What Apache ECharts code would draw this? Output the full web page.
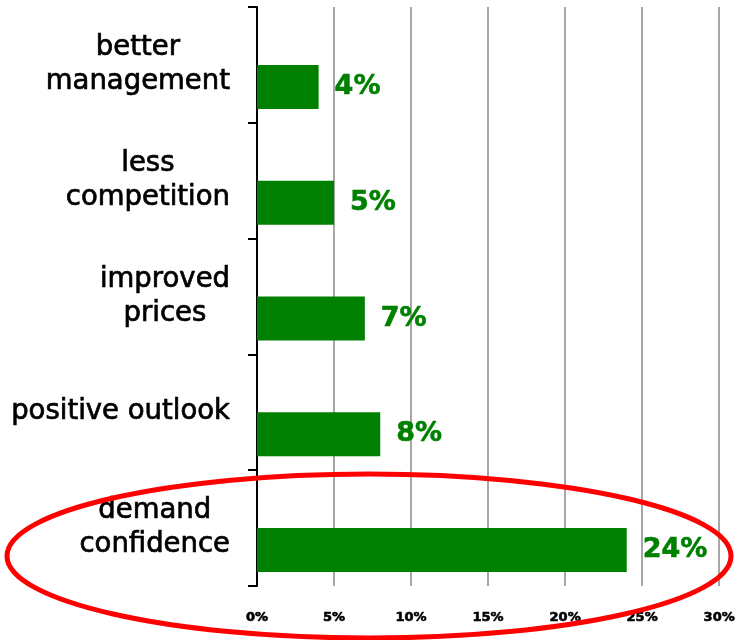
<!DOCTYPE html>
<html>
<head>
<meta charset="utf-8">
<script src="https://cdn.jsdelivr.net/npm/echarts@6/dist/echarts.min.js"></script>
<style>html,body{margin:0;padding:0;background:#fff}#c{width:738px;height:640px}</style>
</head>
<body>
<div id="c"></div>
<script>
const categories = ['demand confidence', 'positive outlook', 'improved prices', 'less competition', 'better management'];
const categoryLines = [['demand', 'confidence'], ['positive outlook'], ['improved', 'prices'], ['less', 'competition'], ['better', 'management']];
const values = [24, 8, 7, 5, 4];
const xTicks = [0, 5, 10, 15, 20, 25, 30];

const chart = echarts.init(document.getElementById('c'), null, {renderer: 'canvas'});
const FONT = '"DejaVu Sans", Verdana, sans-serif';

chart.setOption({
  animation: false,
  backgroundColor: '#ffffff',
  grid: {left: 257, right: 14, top: 7, bottom: 54, containLabel: false},
  xAxis: {
    type: 'value',
    min: xTicks[0],
    max: xTicks[xTicks.length - 1],
    interval: 5,
    axisLine: {show: false},
    axisTick: {show: false},
    splitLine: {show: true, lineStyle: {color: '#a6a6a6', width: 2}},
    axisLabel: {
      formatter: v => v + '%',
      fontFamily: FONT, fontWeight: 'bold', fontSize: 13, color: '#000',
      textBorderColor: '#000', textBorderWidth: 0.6,
      margin: 25
    }
  },
  yAxis: {
    type: 'category',
    data: categories,
    axisLine: {show: true, lineStyle: {color: '#000', width: 2}},
    axisTick: {show: true, length: 9, lineStyle: {color: '#000', width: 2}},
    axisLabel: {
      margin: 27,
      align: 'right',
      formatter: (v, i) => categoryLines[i].map(s => '{c|' + s + '}').join('\n'),
      rich: {
        c: {align: 'center', fontFamily: FONT, fontSize: 27.5, color: '#000', lineHeight: 34,
            textBorderColor: '#000', textBorderWidth: 0.7}
      }
    }
  },
  series: [{
    type: 'bar',
    name: 'spacer',
    data: values.map(() => null),
    barWidth: 44,
    barGap: '0%',
    silent: true,
    itemStyle: {color: 'transparent'}
  }, {
    type: 'bar',
    name: 'share',
    data: values,
    barWidth: 44,
    barGap: '0%',
    itemStyle: {color: '#008000'},
    label: {
      show: true,
      position: 'right',
      distance: 16,
      formatter: p => p.value + '%',
      fontFamily: FONT, fontWeight: 'bold', fontSize: 27, color: '#008000',
      textBorderColor: '#008000', textBorderWidth: 0.6
    }
  }],
  graphic: [{
    type: 'ellipse',
    shape: {cx: 369, cy: 556, rx: 362, ry: 82},
    style: {fill: null, stroke: '#ff0000', lineWidth: 5},
    z: 100
  }]
});
</script>
</body>
</html>
